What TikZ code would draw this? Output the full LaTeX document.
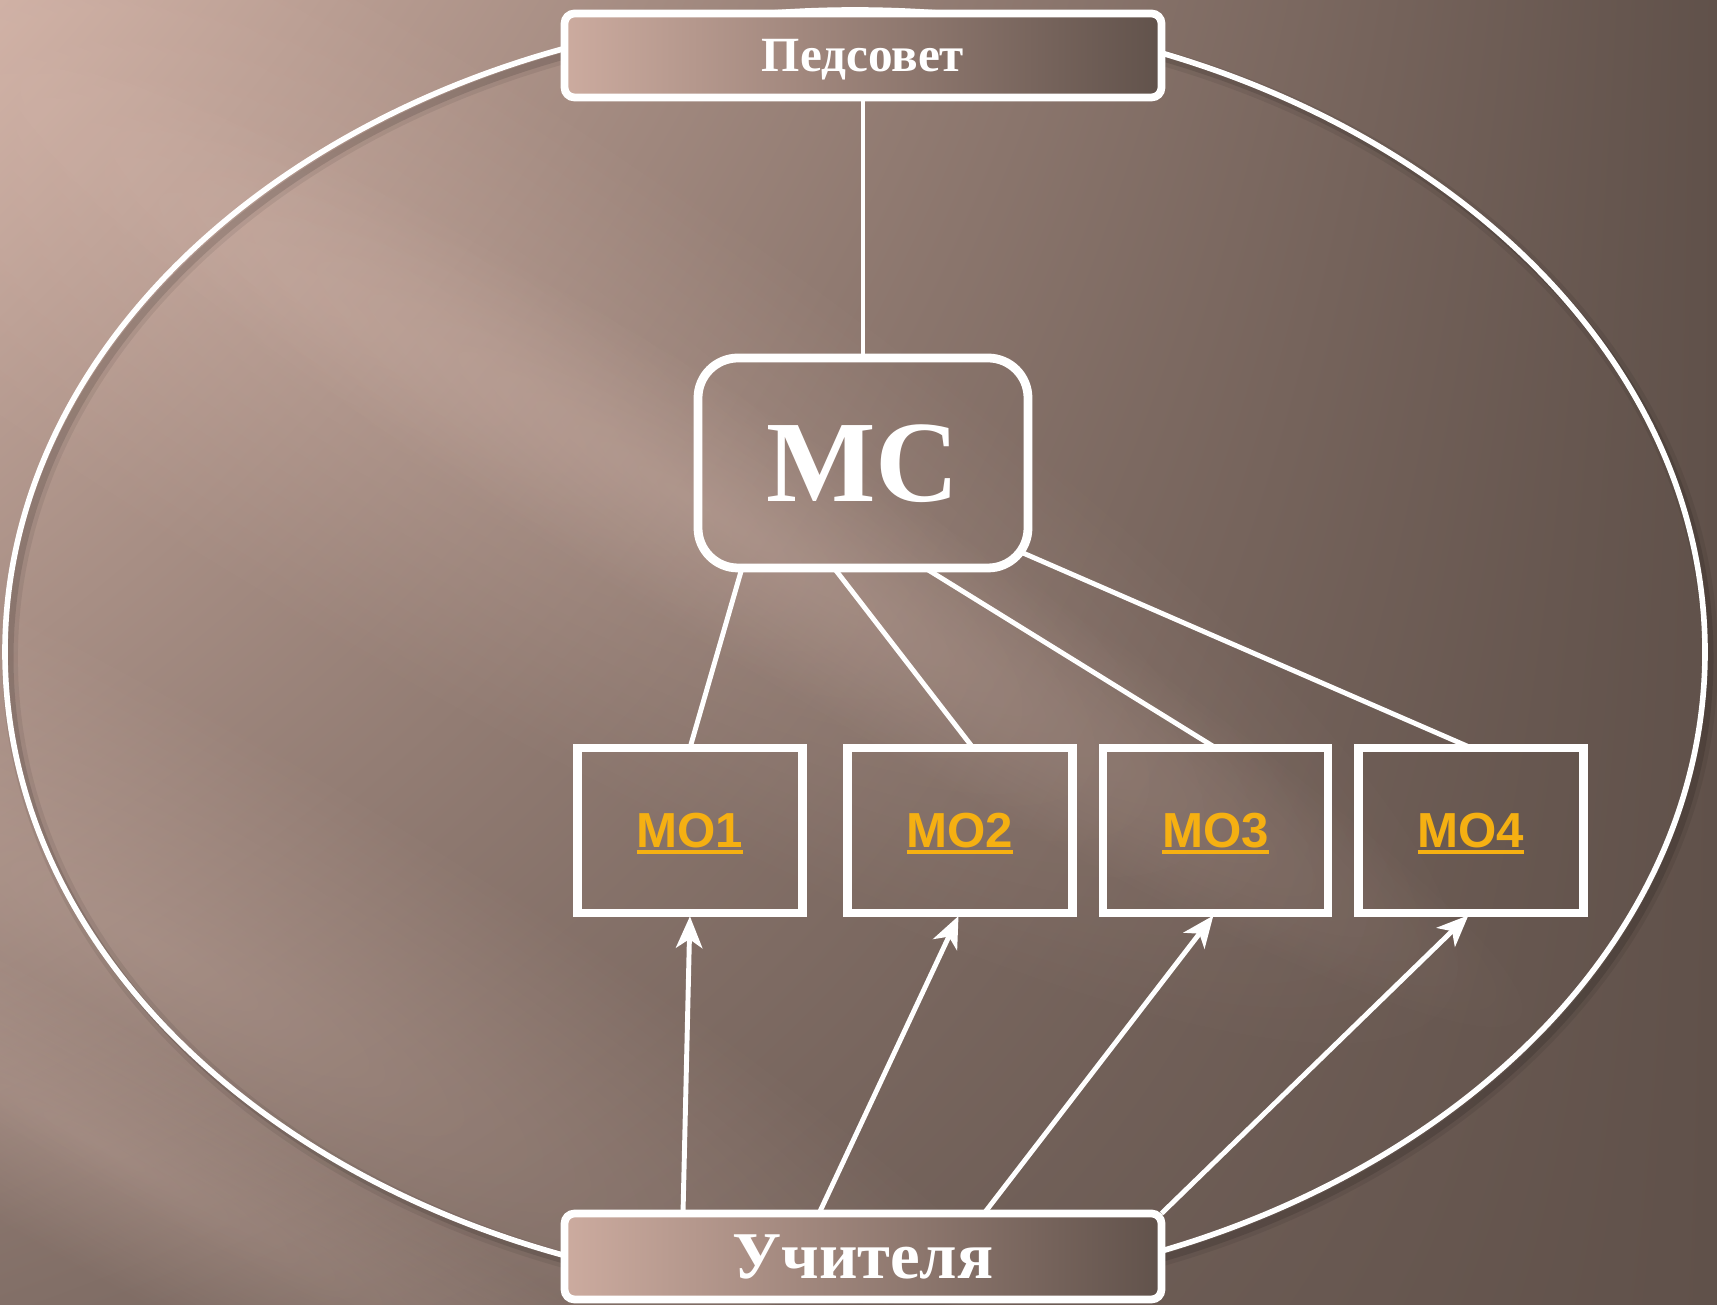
\documentclass[tikz,border=0pt]{standalone}
\usepackage{fontspec}
\setmainfont{Liberation Serif}
\setsansfont{Liberation Sans}
\usepackage{xcolor}
\usetikzlibrary{arrows.meta, shadings, fadings}

\definecolor{bgLight}{RGB}{206,175,163}
\definecolor{bgLow}{RGB}{130,111,103}
\definecolor{bgDark}{RGB}{96,81,74}
\definecolor{boxLight}{RGB}{204,171,159}
\definecolor{boxDark}{RGB}{97,82,75}
\definecolor{glowTint}{RGB}{222,192,181}
\definecolor{moGold}{RGB}{245,176,18}

\tikzfading[name=glowfade, inner color=transparent!74, outer color=transparent!100]

\newcommand{\goldline}[1]{\setbox0\hbox{#1}\rlap{\raisebox{-2pt}{\rule{\wd0}{1.4pt}}}\box0}

\begin{document}
\begin{tikzpicture}[
		banner/.style={draw=white, line width=2.2pt, rounded corners=0.1cm, left color=boxLight, right color=boxDark, minimum width=5.97cm, text=white, text depth=0pt, outer sep=0pt},
		council/.style={draw=white, line width=2.5pt, rounded corners=0.4cm, minimum width=3.3cm, minimum height=2.1cm, text=white, text depth=0pt, outer sep=0pt, font=\bfseries\fontsize{33}{36}\selectfont},
		unit/.style={draw=white, line width=2.3pt, minimum width=2.25cm, minimum height=1.65cm, text=moGold, text depth=0pt, outer sep=0pt, font=\sffamily\bfseries\fontsize{14}{16}\selectfont},
		link/.style={white, line width=1.4pt}
	]
			\def\W{17.17}
			\def\H{13.05}

			\useasboundingbox (0,0) rectangle (\W,\H);

			% background and light streaks
			\shade [upper left=bgLight, upper right=bgDark, lower left=bgLow, lower right=bgDark] (0,0) rectangle (\W,\H);
			\begin{scope}
				\clip (0,0) rectangle (\W,\H);
				\foreach \x/\y/\a/\r/\s in {3/10.2/-32/14/3.0, 7/8.0/-32/10/1.2, 1.5/3.6/-30/12/2.4, 1/1.6/-30/9/1.2}
					\fill [glowTint, path fading=glowfade, transform canvas={rotate around={\a:(\x,\y)}}] (\x,\y) ellipse [x radius=\r, y radius=\s];
			\end{scope}

			% ring
			\coordinate (ov) at (8.55,6.53);
			\draw [black, opacity=0.07, line width=4.5pt] ([shift={(0.05,-0.06)}]ov) ellipse [x radius=8.5, y radius=6.42];
			\draw [black, opacity=0.12, line width=2pt] ([shift={(0.05,-0.06)}]ov) ellipse [x radius=8.5, y radius=6.42];
			\draw [white, line width=1.6pt] (ov) ellipse [x radius=8.5, y radius=6.42];

			% boxes
			\node [banner, minimum height=0.84cm, font=\bfseries\fontsize{14}{16}\selectfont] (ped) at (8.63,12.495) {Педсовет};
			\node [banner, minimum height=0.86cm, font=\bfseries\fontsize{19}{22}\selectfont] (uch) at (8.63,0.485) {Учителя};
			\node [council] (ms) at (8.63,8.42) {МС};
			\node [unit] (mo1) at (6.90,4.747) {\goldline{МО1}};
			\node [unit] (mo2) at (9.60,4.747) {\goldline{МО2}};
			\node [unit] (mo3) at (12.155,4.747) {\goldline{МО3}};
			\node [unit] (mo4) at (14.71,4.747) {\goldline{МО4}};

			% links
			\draw [link] (ped) -- (ms);
			\draw [link] ([xshift=-1.21cm]ms.south) -- (mo1.north);
			\draw [link] ([xshift=-0.29cm]ms.south) -- ([xshift=0.13cm]mo2.north);
			\draw [link] ([xshift=0.62cm]ms.south) -- (mo3.north);
			\draw [link] ([shift={(-0.05,0.15)}]ms.south east) -- (mo4.north);

			\begin{scope}[link, -{Stealth[length=9pt, width=7.5pt, inset=2.5pt]}, shorten >=1pt]
				\draw ([xshift=-1.80cm]uch.north) -- (mo1.south);
				\draw ([xshift=-0.44cm]uch.north) -- (mo2.south);
				\draw ([xshift=1.21cm]uch.north) -- (mo3.south);
				\draw (uch.north east) -- (mo4.south);
			\end{scope}
		\end{tikzpicture}
\end{document}
